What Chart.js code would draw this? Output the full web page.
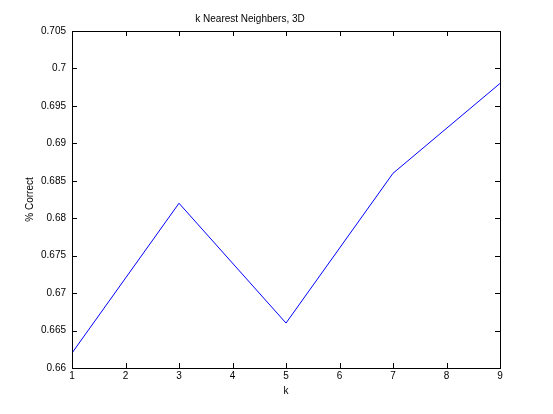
<!DOCTYPE html>
<html>
<head>
<meta charset="utf-8">
<script src="https://cdn.jsdelivr.net/npm/chart.js@4.4.1/dist/chart.umd.min.js"></script>
<style>
  html, body { margin: 0; padding: 0; background: #fff; }
  #wrap { width: 553px; height: 414px; }
</style>
</head>
<body>
<div id="wrap"><canvas id="knn-chart" width="553" height="414"></canvas></div>
<script>
// k values and accuracy
const kValues = [1, 3, 5, 7, 9];
const pctCorrect = [0.662, 0.682, 0.666, 0.686, 0.698];

const xMin = 1, xMax = 9, xStep = 1;
const yMin = 0.66, yMax = 0.705, yStep = 0.005;

const FONT = 'Arial, "Liberation Sans", Helvetica, sans-serif';

// MATLAB style: box around the axes with ticks pointing inward on all four sides
const insideTicks = {
    id: 'insideTicks',
    afterDraw(chart) {
        const ctx = chart.ctx;
        const a = chart.chartArea;
        const xs = chart.scales.x;
        const ys = chart.scales.y;
        const len = 5;
        ctx.save();
        ctx.strokeStyle = '#000';
        ctx.lineWidth = 1;
        ctx.beginPath();
        xs.ticks.forEach(t => {
            const px = Math.round(xs.getPixelForValue(t.value)) + 0.5;
            ctx.moveTo(px, a.bottom);
            ctx.lineTo(px, a.bottom - len);
            ctx.moveTo(px, a.top);
            ctx.lineTo(px, a.top + len);
        });
        ys.ticks.forEach(t => {
            const py = Math.round(ys.getPixelForValue(t.value)) + 0.5;
            ctx.moveTo(a.left, py);
            ctx.lineTo(a.left + len, py);
            ctx.moveTo(a.right, py);
            ctx.lineTo(a.right - len, py);
        });
        ctx.stroke();
        ctx.strokeRect(Math.round(a.left) + 0.5, Math.round(a.top) + 0.5,
            Math.round(a.right - a.left), Math.round(a.bottom - a.top));
        ctx.restore();
    }
};

new Chart(document.getElementById('knn-chart').getContext('2d'), {
    type: 'line',
    data: {
        labels: kValues,
        datasets: [{
            label: '% Correct',
            data: kValues.map((k, i) => ({ x: k, y: pctCorrect[i] })),
            borderColor: '#0000ff',
            borderWidth: 1,
            pointRadius: 0,
            fill: false,
            tension: 0
        }]
    },
    options: {
        responsive: false,
        animation: false,
        devicePixelRatio: 1,
        layout: {
            padding: { left: 0, right: 53, top: 0, bottom: 0 }
        },
        plugins: {
            legend: { display: false },
            tooltip: { enabled: false },
            title: {
                display: true,
                text: 'k Nearest Neighbers, 3D',
                color: '#000',
                font: { family: FONT, size: 10, weight: 'normal' },
                padding: { top: 13, bottom: 6 }
            }
        },
        scales: {
            x: {
                type: 'linear',
                min: xMin,
                max: xMax,
                afterFit: s => { s.height = 46; },
                ticks: {
                    stepSize: xStep,
                    color: '#000',
                    padding: 2,
                    maxRotation: 0,
                    font: { family: FONT, size: 10 }
                },
                grid: { display: false, drawTicks: false },
                border: { display: false },
                title: {
                    display: true,
                    text: 'k',
                    color: '#000',
                    font: { family: FONT, size: 10 },
                    padding: { top: 0, bottom: 17 }
                }
            },
            y: {
                min: yMin,
                max: yMax,
                afterFit: s => { s.width = 72; },
                ticks: {
                    stepSize: yStep,
                    color: '#000',
                    padding: 6,
                    font: { family: FONT, size: 10 },
                    callback: v => String(parseFloat(v.toFixed(3)))
                },
                grid: { display: false, drawTicks: false },
                border: { display: false },
                title: {
                    display: true,
                    text: '% Correct',
                    color: '#000',
                    font: { family: FONT, size: 10 },
                    padding: { top: 24, bottom: 0 }
                }
            }
        }
    },
    plugins: [insideTicks]
});
</script>
</body>
</html>
